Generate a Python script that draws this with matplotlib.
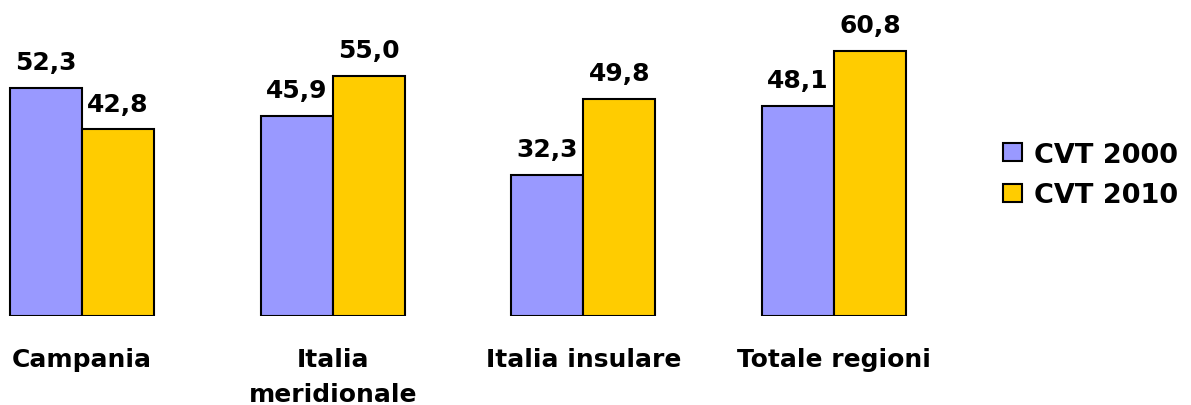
import numpy as np
import matplotlib
matplotlib.use("Agg")
import matplotlib.pyplot as plt

categories = ["Campania", "Italia\nmeridionale", "Italia insulare", "Totale regioni"]
cvt_2000 = [52.3, 45.9, 32.3, 48.1]
cvt_2010 = [42.8, 55.0, 49.8, 60.8]
series_names = ["CVT 2000", "CVT 2010"]
col_2000 = "#9999FF"
col_2010 = "#FFCC00"

plt.rcParams["font.family"] = ["DejaVu Sans"]
plt.rcParams["font.weight"] = "bold"
FS = 18

W, H = 1191, 406
fig = plt.figure(figsize=(W / 100, H / 100), dpi=100)
# baseline at 317px from top, 4.36 px per unit; groups 250.67px apart starting at 82px
ax = fig.add_axes([0, 89 / H, 1, 317 / H])
step = 250.67
ax.set_xlim(-82 / step, (W - 82) / step)
ax.set_ylim(0, 317 / 4.36)
ax.axis("off")

x = np.arange(len(categories))
bw = 72 / step
b1 = ax.bar(x, cvt_2000, width=-bw, align="edge", color=col_2000, edgecolor="black", lw=1.5, label=series_names[0])
b2 = ax.bar(x, cvt_2010, width=bw, align="edge", color=col_2010, edgecolor="black", lw=1.5, label=series_names[1])

for bars in (b1, b2):
    for r in bars:
        v = r.get_height()
        ax.annotate(f"{v:.1f}".replace(".", ","), (r.get_x() + r.get_width() / 2, v),
                    xytext=(0, 10), textcoords="offset points", ha="center", va="bottom",
                    fontsize=FS, fontweight="bold")

for xi, lab in zip(x, categories):
    ax.annotate(lab, (xi, 0), xytext=(0, -22), textcoords="offset points", ha="center", va="top",
                fontsize=FS, fontweight="bold", annotation_clip=False, linespacing=1.6)

fig.legend(handles=[b1, b2], loc="center left", bbox_to_anchor=(1003 / W, 230 / H),
           frameon=False, handlelength=0.7, handleheight=0.65,
           handletextpad=0.45, labelspacing=0.55, borderpad=0, borderaxespad=0,
           prop={"weight": "bold", "size": 19.5})

fig.savefig("out.png", dpi=100)
